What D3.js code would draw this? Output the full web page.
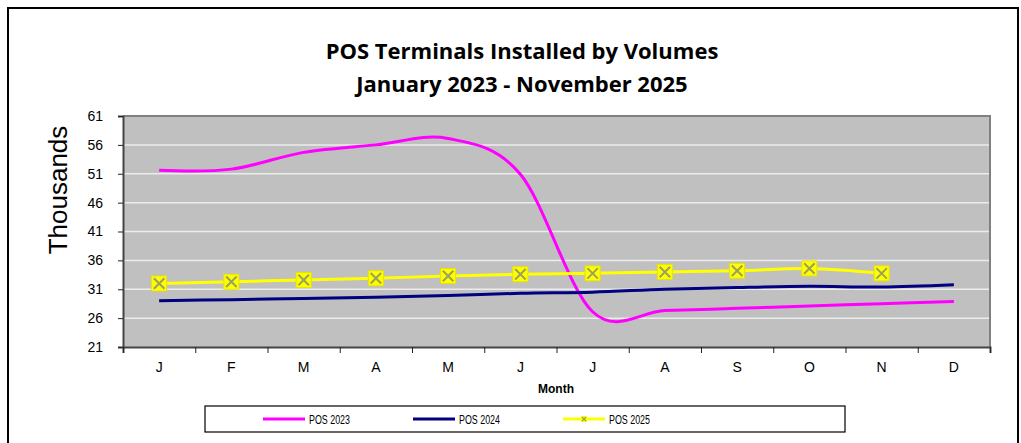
<!DOCTYPE html>
<html>
<head>
<meta charset="utf-8">
<script src="https://cdn.jsdelivr.net/npm/d3@7"></script>
<style>
  html, body { margin: 0; padding: 0; background: #fff; }
  svg { display: block; }
</style>
</head>
<body>
<svg id="chart" width="1021" height="443"></svg>
<script>
// Month categories (x axis)
const months = ["J", "F", "M", "A", "M", "J", "J", "A", "S", "O", "N", "D"];
// Installed POS terminals, in thousands
const pos2023 = [51.6, 51.8, 54.7, 56.0, 57.1, 50.9, 27.1, 27.3, 27.7, 28.1, 28.5, 28.9];
const pos2024 = [29.0, 29.2, 29.4, 29.6, 29.9, 30.3, 30.5, 31.0, 31.3, 31.5, 31.4, 31.8];
const pos2025 = [32.0, 32.3, 32.6, 32.9, 33.3, 33.6, 33.75, 34.0, 34.2, 34.6, 33.75];
const yTicks = [21, 26, 31, 36, 41, 46, 51, 56, 61];
const seriesNames = ["POS 2023", "POS 2024", "POS 2025"];

const svg = d3.select("#chart");
const plot = { left: 123, top: 116, right: 990, bottom: 347 };

// outer chart frame
svg.append("rect")
  .attr("x", 8).attr("y", 8).attr("width", 1010).attr("height", 460)
  .attr("fill", "none").attr("stroke", "#000").attr("stroke-width", 2);

// title
const title = svg.append("text")
  .attr("text-anchor", "middle")
  .attr("font-family", "'Open Sans', sans-serif")
  .attr("font-weight", "bold")
  .attr("font-size", 22)
  .attr("fill", "#000");
title.append("tspan").attr("x", 522).attr("y", 59).text("POS Terminals Installed by Volumes");
title.append("tspan").attr("x", 522).attr("y", 92).text("January 2023 - November 2025");

// scales
const x = d3.scaleBand().domain(d3.range(months.length)).range([plot.left, plot.right]);
const y = d3.scaleLinear().domain([21, 61]).range([plot.bottom, plot.top]);
const cx = i => x(i) + x.bandwidth() / 2;

// plot background
svg.append("rect")
  .attr("x", plot.left).attr("y", plot.top)
  .attr("width", plot.right - plot.left).attr("height", plot.bottom - plot.top)
  .attr("fill", "#c0c0c0");

// horizontal gridlines
svg.append("g")
  .selectAll("line")
  .data(yTicks.filter(t => t !== 21 && t !== 61))
  .join("line")
  .attr("x1", plot.left).attr("x2", plot.right)
  .attr("y1", d => y(d)).attr("y2", d => y(d))
  .attr("stroke", "#ececec").attr("stroke-width", 1.5);

// plot frame: grey top and right edges
svg.append("path")
  .attr("d", `M${plot.left},${plot.top}H${plot.right}V${plot.bottom}`)
  .attr("fill", "none").attr("stroke", "#808080").attr("stroke-width", 2);

// y axis
const yAxis = d3.axisLeft(y).tickValues(yTicks).tickSize(5).tickPadding(15);
const gy = svg.append("g").attr("transform", `translate(${plot.left},0)`).call(yAxis);
gy.select(".domain").attr("stroke", "#444").attr("stroke-width", 2);
gy.selectAll(".tick line").attr("stroke", "#222");
gy.selectAll(".tick text")
  .attr("font-family", "'Liberation Sans', Arial, sans-serif")
  .attr("font-size", 14).attr("fill", "#000");

// x axis: ticks at category boundaries
const xAxis = d3.axisBottom(d3.scaleLinear().domain([0, months.length]).range([plot.left, plot.right]))
  .tickValues(d3.range(months.length + 1)).tickSize(6).tickFormat("");
const gx = svg.append("g").attr("transform", `translate(0,${plot.bottom})`).call(xAxis);
gx.select(".domain").attr("stroke", "#444").attr("stroke-width", 2);
gx.selectAll(".tick line").attr("stroke", "#222");

svg.append("g")
  .selectAll("text")
  .data(months)
  .join("text")
  .attr("x", (d, i) => cx(i))
  .attr("y", 372)
  .attr("text-anchor", "middle")
  .attr("font-family", "'Liberation Sans', Arial, sans-serif")
  .attr("font-size", 14)
  .text(d => d);

// axis titles
svg.append("text")
  .attr("transform", "translate(67,190) rotate(-90)")
  .attr("text-anchor", "middle")
  .attr("font-family", "'Liberation Sans', Arial, sans-serif")
  .attr("font-size", 26)
  .text("Thousands");

svg.append("text")
  .attr("x", 556).attr("y", 393)
  .attr("text-anchor", "middle")
  .attr("font-family", "'Liberation Sans', Arial, sans-serif")
  .attr("font-weight", "bold")
  .attr("font-size", 12)
  .text("Month");

// series lines
const line = d3.line()
  .x((d, i) => cx(i))
  .y(d => y(d))
  .curve(d3.curveCardinal.tension(0));

const series = [
  { name: seriesNames[0], values: pos2023, color: "#ff00ff", marker: false },
  { name: seriesNames[1], values: pos2024, color: "#000080", marker: false },
  { name: seriesNames[2], values: pos2025, color: "#ffff00", marker: true }
];

const lines = svg.append("g");
series.forEach(s => {
  lines.append("path")
    .datum(s.values)
    .attr("d", line)
    .attr("fill", "none")
    .attr("stroke", s.color)
    .attr("stroke-width", 3);
});

// square markers with a cross for POS 2025
function drawMarker(g, px, py, size) {
  const h = size / 2;
  g.append("rect")
    .attr("x", px - h).attr("y", py - h).attr("width", size).attr("height", size)
    .attr("fill", "#ffff00").attr("stroke", "#e4e400").attr("stroke-width", 1);
  const k = h * 0.7;
  g.append("path")
    .attr("d", `M${px - k},${py - k}L${px + k},${py + k}M${px - k},${py + k}L${px + k},${py - k}`)
    .attr("stroke", "#9aa25a").attr("stroke-width", 2);
}
const markers = svg.append("g");
pos2025.forEach((v, i) => drawMarker(markers, cx(i), y(v), 15));

// legend
const lg = svg.append("g");
lg.append("rect")
  .attr("x", 205).attr("y", 406).attr("width", 640).attr("height", 26)
  .attr("fill", "#fff").attr("stroke", "#000").attr("stroke-width", 1.2);
const legendX = [263, 413, 563];
series.forEach((s, i) => {
  const lx = legendX[i];
  lg.append("line")
    .attr("x1", lx).attr("x2", lx + 42).attr("y1", 419).attr("y2", 419)
    .attr("stroke", s.color).attr("stroke-width", 3);
  if (s.marker) {
    const m = lg.append("g");
    m.append("rect").attr("x", lx + 18).attr("y", 416).attr("width", 6).attr("height", 6).attr("fill", "#ffff00");
    m.append("path")
      .attr("d", `M${lx + 19},${417}L${lx + 23},${421}M${lx + 19},${421}L${lx + 23},${417}`)
      .attr("stroke", "#9aa25a").attr("stroke-width", 1.2);
  }
  lg.append("text")
    .attr("x", lx + 46).attr("y", 423.5)
    .attr("font-family", "'Liberation Sans Narrow', 'Liberation Sans', Arial, sans-serif")
    .attr("font-size", 12)
    .attr("textLength", 41)
    .attr("lengthAdjust", "spacingAndGlyphs")
    .text(s.name);
});
</script>
</body>
</html>
